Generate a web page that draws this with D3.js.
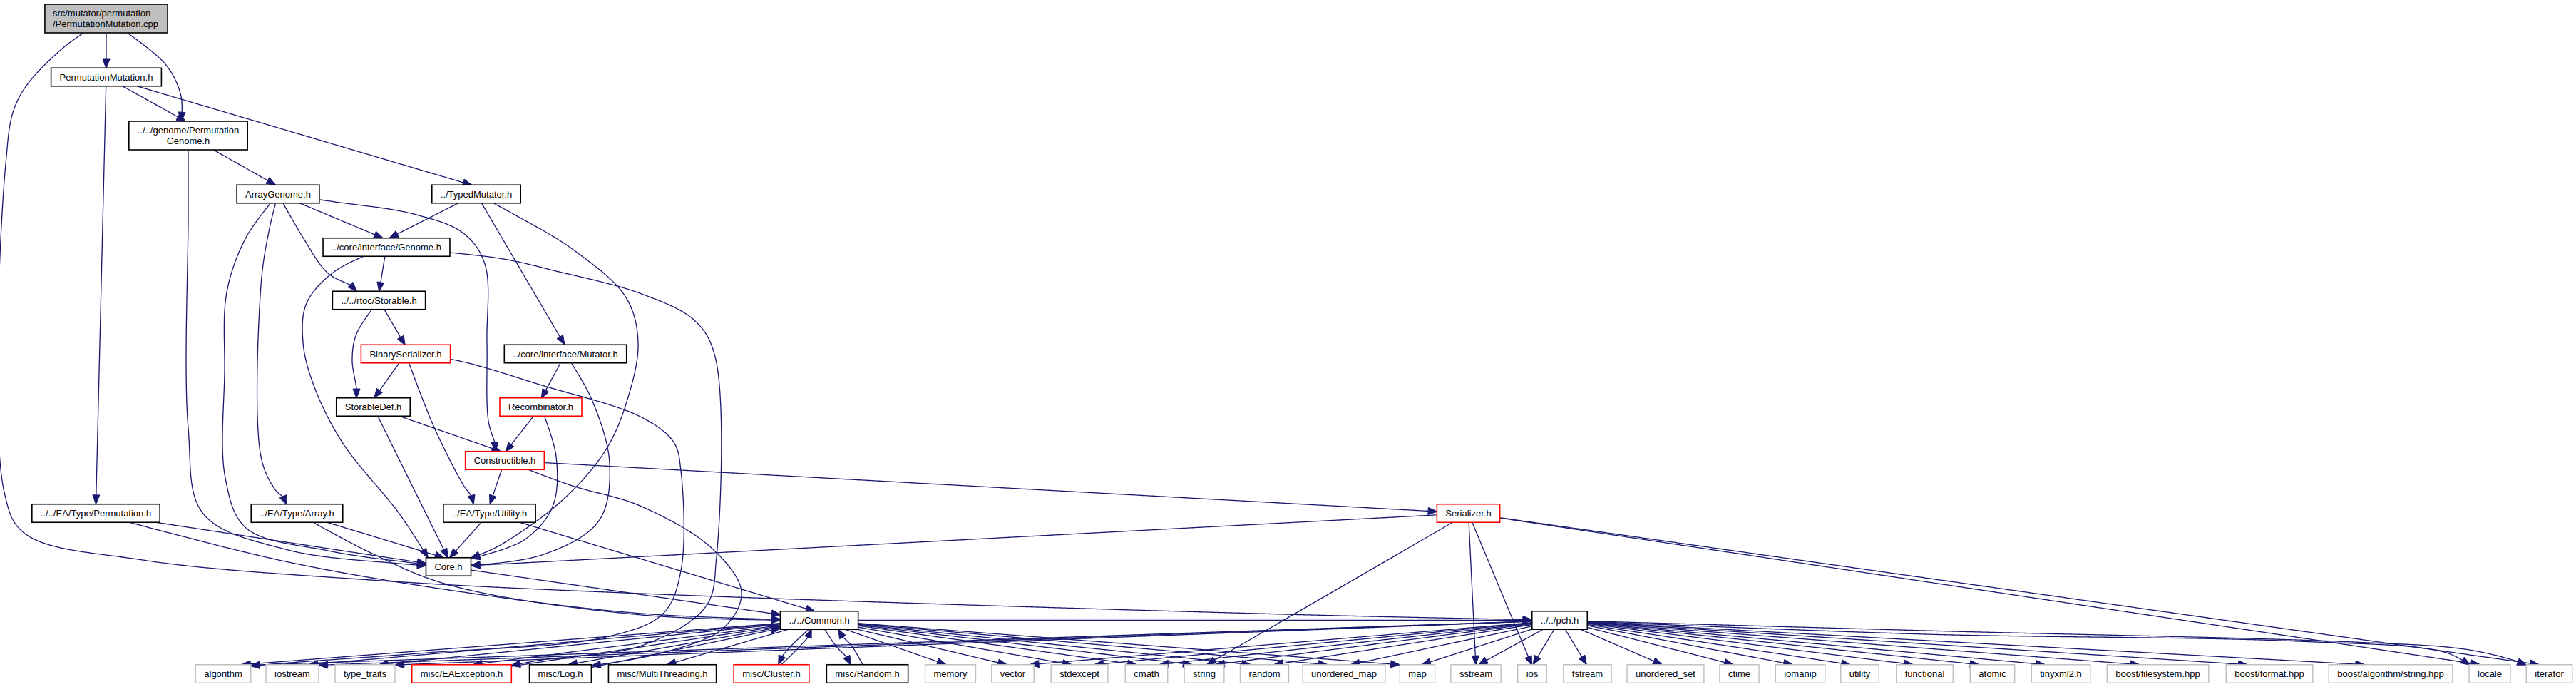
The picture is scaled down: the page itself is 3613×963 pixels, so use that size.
<!DOCTYPE html>
<html>
<head>
<meta charset="utf-8">
<script src="https://cdn.jsdelivr.net/npm/d3@7"></script>
<style>
  html, body { margin: 0; padding: 0; background: #fff; }
  text { font-family: "Liberation Sans", Arial, Helvetica, sans-serif; font-size: 13px; fill: #000; }
</style>
</head>
<body>
<div id="graph"></div>
<script>
// Include dependency graph for src/mutator/permutation/PermutationMutation.cpp

// SVG window
var svgWidth = 3613;
var svgHeight = 963;

// ---- data: files, their labels and kinds ----
var nodeIds = ["cpp", "pmH", "pgH", "agH", "tmH", "genH", "stoH", "bsH", "mutH", "sdH", "recH", "conH",
  "permH", "arrH", "utilH", "serH", "coreH", "comH", "pchH",
  "algorithm", "iostream", "type_traits", "EAException", "Log", "MultiThreading", "Cluster", "Random",
  "memory", "vector", "stdexcept", "cmath", "string", "random", "unordered_map", "map", "sstream", "ios",
  "fstream", "unordered_set", "ctime", "iomanip", "utility", "functional", "atomic", "tinyxml2",
  "bfs", "bformat", "balgo", "locale", "iterator"];

var nodeLabels = ["src/mutator/permutation\n/PermutationMutation.cpp", "PermutationMutation.h",
  "../../genome/Permutation\nGenome.h", "ArrayGenome.h", "../TypedMutator.h", "../core/interface/Genome.h",
  "../../rtoc/Storable.h", "BinarySerializer.h", "../core/interface/Mutator.h", "StorableDef.h",
  "Recombinator.h", "Constructible.h", "../../EA/Type/Permutation.h", "../EA/Type/Array.h",
  "../EA/Type/Utility.h", "Serializer.h", "Core.h", "../../Common.h", "../../pch.h",
  "algorithm", "iostream", "type_traits", "misc/EAException.h", "misc/Log.h", "misc/MultiThreading.h",
  "misc/Cluster.h", "misc/Random.h", "memory", "vector", "stdexcept", "cmath", "string", "random",
  "unordered_map", "map", "sstream", "ios", "fstream", "unordered_set", "ctime", "iomanip", "utility",
  "functional", "atomic", "tinyxml2.h", "boost/filesystem.hpp", "boost/format.hpp",
  "boost/algorithm/string.hpp", "locale", "iterator"];

// root = this file, doc = documented header, trunc = graph truncated, ext = not in project
var nodeKinds = ["root", "doc", "doc", "doc", "doc", "doc", "doc", "trunc", "doc", "doc", "trunc", "trunc",
  "doc", "doc", "doc", "trunc", "doc", "doc", "doc",
  "ext", "ext", "ext", "trunc", "doc", "doc", "trunc", "doc",
  "ext", "ext", "ext", "ext", "ext", "ext", "ext", "ext", "ext", "ext",
  "ext", "ext", "ext", "ext", "ext", "ext", "ext", "ext",
  "ext", "ext", "ext", "ext", "ext"];

// includes: [includer, included]
var includes = [
  ["cpp", "pmH"], ["cpp", "pgH"], ["cpp", "pchH"],
  ["pmH", "pgH"], ["pmH", "tmH"], ["pmH", "permH"],
  ["pgH", "agH"], ["pgH", "coreH"],
  ["agH", "genH"], ["agH", "stoH"], ["agH", "arrH"], ["agH", "coreH"], ["agH", "conH"],
  ["tmH", "genH"], ["tmH", "mutH"], ["tmH", "coreH"],
  ["genH", "stoH"], ["genH", "coreH"], ["genH", "EAException"],
  ["stoH", "sdH"], ["stoH", "bsH"],
  ["bsH", "sdH"], ["bsH", "utilH"], ["bsH", "algorithm"],
  ["mutH", "recH"], ["mutH", "coreH"],
  ["sdH", "conH"], ["sdH", "coreH"],
  ["recH", "conH"], ["recH", "coreH"],
  ["conH", "utilH"], ["conH", "serH"], ["conH", "Log"],
  ["permH", "coreH"], ["permH", "comH"],
  ["arrH", "coreH"], ["arrH", "comH"],
  ["utilH", "coreH"], ["utilH", "comH"],
  ["serH", "coreH"], ["serH", "string"], ["serH", "sstream"], ["serH", "ios"], ["serH", "locale"], ["serH", "iterator"],
  ["coreH", "comH"],
  ["comH", "pchH"],
  ["Cluster", "comH"], ["Random", "comH"], ["EAException", "comH"], ["Log", "comH"]
];

var commonIncludes = ["algorithm", "iostream", "type_traits", "EAException", "Log", "MultiThreading",
  "Cluster", "Random", "memory", "vector", "stdexcept", "cmath", "string", "random", "unordered_map", "map"];

var pchIncludes = ["algorithm", "iostream", "type_traits", "vector", "stdexcept", "cmath", "string", "random",
  "unordered_map", "map", "sstream", "ios", "fstream", "unordered_set", "ctime", "iomanip", "utility",
  "functional", "atomic", "tinyxml2", "bfs", "bformat", "balgo", "locale", "iterator"];

// ---- layout (graph units, read from the dot output) ----
var layoutRank = [0, 1, 2, 3, 3, 4, 5, 6, 6, 7, 7, 8, 9, 9, 9, 9, 10, 11, 11,
  12, 12, 12, 12, 12, 12, 12, 12, 12, 12, 12, 12, 12, 12, 12, 12, 12, 12,
  12, 12, 12, 12, 12, 12, 12, 12, 12, 12, 12, 12, 12];

var layoutX = [149, 149, 264, 390, 668, 542, 531.5, 569, 793, 523.5, 758.5, 708,
  134.5, 416.5, 686.5, 2059.5, 629, 1149, 2187.5,
  313, 410, 512, 647.5, 786, 929, 1082, 1216.5, 1333, 1420.5, 1514, 1608, 1689, 1773.5,
  1885, 1988, 2070, 2149, 2226.5, 2336, 2439.5, 2525, 2608.5, 2699.5, 2794.5, 2890.5,
  3026.5, 3183, 3353, 3492, 3575.5];

var rowY = [26, 108, 190, 272, 346.5, 421, 496, 570.5, 645.5, 719.5, 794.5, 869.5, 944.5];

// spline bends for the long edges
var edgeVia = {
  "cpp>pgH": [[232, 90], [254, 135]],
  "cpp>pchH": [[85, 70], [25, 140], [8, 230], [6, 690], [35, 748], [200, 785], [520, 813], [900, 832], [1800, 861]],
  "pgH>coreH": [[264, 300], [264, 600], [285, 720], [400, 770], [560, 790]],
  "agH>stoH": [[425, 333], [460, 383], [500, 405]],
  "agH>arrH": [[378, 320], [366, 400], [366, 640], [385, 685], [402, 702]],
  "agH>coreH": [[345, 333], [318, 410], [315, 520], [316, 670], [345, 740], [460, 772], [570, 788]],
  "agH>conH": [[470, 283], [580, 300], [650, 327], [680, 370], [683, 480], [685, 590], [695, 625]],
  "tmH>coreH": [[720, 300], [804, 350], [878, 417], [895, 480], [880, 560], [850, 630], [790, 700], [700, 765]],
  "mutH>coreH": [[830, 560], [855, 650], [840, 730], [760, 778]],
  "genH>coreH": [[470, 380], [430, 425], [425, 480], [440, 540], [480, 620], [560, 720]],
  "genH>EAException": [[700, 362], [780, 380], [900, 412], [975, 450], [1003, 500], [1005, 780], [990, 850], [900, 905], [760, 925]],
  "stoH>sdH": [[500, 468], [494, 505], [500, 545]],
  "bsH>utilH": [[608, 597], [650, 680], [664, 700]],
  "bsH>algorithm": [[640, 505], [760, 540], [900, 585], [945, 620], [955, 660], [955, 800], [930, 860], [850, 893], [600, 915], [420, 928]],
  "recH>coreH": [[780, 640], [775, 710], [735, 757]],
  "conH>Log": [[800, 680], [900, 710], [1000, 770], [1040, 830], [1015, 880], [930, 915]],
  "permH>comH": [[400, 787], [650, 830], [900, 860]],
  "arrH>comH": [[520, 775], [630, 820], [900, 862]],
  "comH>Cluster": [[1110, 905], [1092, 928]],
  "Cluster>comH": [[1120, 908], [1138, 886]],
  "comH>Random": [[1172, 905], [1193, 928]],
  "Random>comH": [[1195, 906], [1176, 886]],
  "pchH>locale": [[2700, 889], [3224, 899], [3428, 914]],
  "pchH>iterator": [[2700, 884], [3300, 900], [3457, 910], [3527, 926]]
};

var graphW = 3613, graphH = 963;
var arrowLen = 13, arrowHalf = 5;
var edgeColor = "#191970";
var borderColor = { root: "#000000", doc: "#000000", trunc: "#ff0000", ext: "#bfbfbf" };

// scales: graph units -> screen
var x = d3.scaleLinear().domain([0, graphW]).range([0, svgWidth]);
var y = d3.scaleLinear().domain([0, graphH]).range([0, svgHeight]);

var svg = d3.select("#graph")
  .append("svg")
  .attr("width", svgWidth)
  .attr("height", svgHeight);

svg.append("rect").attr("width", svgWidth).attr("height", svgHeight).attr("fill", "#fff");

var edgeGroup = svg.append("g");
var nodeGroup = svg.append("g");

// ---- nodes ----
var nodes = {};
nodeIds.forEach(function(id, i) {
  var lines = nodeLabels[i].split("\n");
  var kind = nodeKinds[i];
  var cx = x(layoutX[i]);
  var cy = y(rowY[layoutRank[i]]);
  var h = lines.length > 1 ? 40 : 25.5;

  var g = nodeGroup.append("g");
  var rect = g.append("rect");
  var texts = lines.map(function(l, j) {
    return g.append("text")
      .attr("y", cy + (j - (lines.length - 1) / 2) * 15)
      .attr("dy", "0.36em")
      .text(l);
  });
  var w = d3.max(texts, function(t) { return t.node().getComputedTextLength(); }) + 24;

  texts.forEach(function(t) {
    if (kind === "root") t.attr("x", cx - w / 2 + 11).attr("text-anchor", "start");
    else t.attr("x", cx).attr("text-anchor", "middle");
  });

  rect.attr("x", cx - w / 2)
    .attr("y", cy - h / 2)
    .attr("width", w)
    .attr("height", h)
    .attr("fill", kind === "root" ? "#bfbfbf" : "#ffffff")
    .attr("stroke", borderColor[kind])
    .attr("stroke-width", kind === "ext" ? 1.4 : 1.6);

  nodes[id] = { cx: cx, cy: cy, w: w, h: h, x0: cx - w / 2, x1: cx + w / 2, y0: cy - h / 2, y1: cy + h / 2,
    bottomRow: layoutRank[i] === rowY.length - 1 };
});

// ---- edges ----
var edges = includes.slice();
commonIncludes.forEach(function(t) { edges.push(["comH", t]); });
pchIncludes.forEach(function(t) { edges.push(["pchH", t]); });

function clamp(v, a, b) { return Math.max(a, Math.min(b, v)); }

function inside(n, p) {
  return p.x >= n.x0 && p.x <= n.x1 && p.y >= n.y0 && p.y <= n.y1;
}

function anchor(t, from, hasVia) {
  var dx = t.cx - from[0], dy = t.cy - from[1];
  var ax = hasVia ? clamp(from[0], t.x0 + 4, t.x1 - 4) : t.cx;
  if (t.bottomRow && dy > 0) return [ax, t.y0 + 2];
  if (Math.abs(dx) > 4 * Math.abs(dy)) return [t.cx, t.cy];
  return [ax, dy > 0 ? t.y0 + 2 : t.y1 - 2];
}

var splineGen = d3.line().curve(d3.curveCatmullRom.alpha(0.5));
var straightGen = d3.line();
var probe = svg.append("path").attr("fill", "none").attr("stroke", "none");

edges.forEach(function(e) {
  var s = nodes[e[0]], t = nodes[e[1]];
  var via = (edgeVia[e[0] + ">" + e[1]] || []).map(function(p) { return [x(p[0]), y(p[1])]; });
  var start = [s.cx, s.cy];
  var last = via.length ? via[via.length - 1] : start;
  var pts = [start].concat(via, [anchor(t, last, via.length > 0)]);

  probe.attr("d", splineGen(pts));
  var pn = probe.node();
  var L = pn.getTotalLength();

  var exitL = 0, tipL = L, l;
  for (l = 0; l <= L; l += 1) {
    if (!inside(s, pn.getPointAtLength(l))) { exitL = l; break; }
  }
  for (l = exitL; l <= L; l += 1) {
    if (inside(t, pn.getPointAtLength(l))) { tipL = l; break; }
  }
  var baseL = Math.max(exitL, tipL - arrowLen);

  var samples = d3.range(exitL, baseL, 2).concat([baseL]).map(function(v) {
    var p = pn.getPointAtLength(v);
    return [p.x, p.y];
  });

  edgeGroup.append("path")
    .attr("d", straightGen(samples))
    .attr("fill", "none")
    .attr("stroke", edgeColor)
    .attr("stroke-width", 1.3);

  var tip = pn.getPointAtLength(tipL), base = pn.getPointAtLength(baseL);
  var ux = tip.x - base.x, uy = tip.y - base.y;
  var len = Math.sqrt(ux * ux + uy * uy) || 1;
  ux /= len; uy /= len;
  var bx = tip.x - ux * arrowLen, by = tip.y - uy * arrowLen;

  edgeGroup.append("polygon")
    .attr("points", [[tip.x, tip.y], [bx - uy * arrowHalf, by + ux * arrowHalf], [bx + uy * arrowHalf, by - ux * arrowHalf]]
      .map(function(p) { return p.join(","); }).join(" "))
    .attr("fill", edgeColor)
    .attr("stroke", edgeColor)
    .attr("stroke-width", 1);
});

probe.remove();
</script>
</body>
</html>
